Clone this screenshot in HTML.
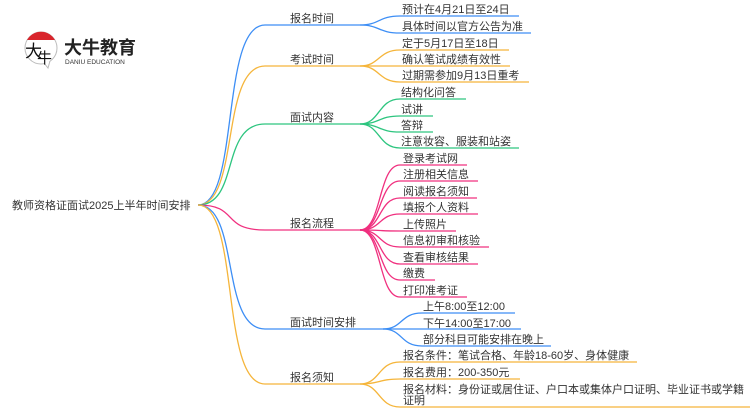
<!DOCTYPE html>
<html><head><meta charset="utf-8"><style>
body{margin:0;background:#fff;width:750px;height:410px;overflow:hidden}
svg text{font-family:"Liberation Sans","Noto Sans CJK SC",sans-serif;font-size:11px;fill:#333}
</style></head><body>
<svg width="750" height="410" viewBox="0 0 750 410" xmlns="http://www.w3.org/2000/svg" fill="none" stroke-width="1.3">
<!-- logo -->
<circle cx="41" cy="48" r="16" fill="#fff" stroke="#bbb" stroke-width="1"/>
<path d="M27,40 A16,16 0 0 1 55,40 Z" fill="#d9252c" stroke="none"/>
<path d="M44,63 L48,68 L50,61" fill="#fff" stroke="#bbb" stroke-width="1"/>
<text x="25" y="57" style="font-size:17px;fill:#111">大</text>
<text x="37" y="63" style="font-size:15px;fill:#111">牛</text>
<text x="64" y="54" style="font-size:18px;font-weight:bold;fill:#222">大牛教育</text>
<text x="65" y="64" style="font-size:6.5px;fill:#333">DANIU EDUCATION</text>
<!-- root -->
<text x="12" y="209">教师资格证面试2025上半年时间安排</text>
<!-- branches -->
<path d="M198,205 C240,205 220,25 265,25 L360,25" stroke="#3d8ef5"/>
<path d="M198,205 C240,205 220,66 265,66 L360,66" stroke="#f5b53b"/>
<path d="M198,205 C240,205 220,124 265,124 L360,124" stroke="#2dc57f"/>
<path d="M198,205 C240,205 220,230 265,230 L360,230" stroke="#f0307f"/>
<path d="M198,205 C240,205 220,329 265,329 L383,329" stroke="#3d8ef5"/>
<path d="M198,205 C240,205 220,384 265,384 L360,384" stroke="#f5b53b"/>
<text x="290" y="22">报名时间</text>
<text x="290" y="63">考试时间</text>
<text x="290" y="121">面试内容</text>
<text x="290" y="227">报名流程</text>
<text x="290" y="326">面试时间安排</text>
<text x="290" y="381">报名须知</text>
<g stroke="#3d8ef5">
<path d="M360,25 C380,25 378,16 400,16 L519,16"/>
<path d="M360,25 C380,25 378,33 400,33 L531,33"/>
</g>
<text x="402" y="13">预计在4月21日至24日</text>
<text x="402" y="30">具体时间以官方公告为准</text>
<g stroke="#f5b53b">
<path d="M360,66 C380,66 378,50 400,50 L509,50"/>
<path d="M360,66 L510,66"/>
<path d="M360,66 C380,66 378,82 400,82 L529,82"/>
</g>
<text x="402" y="47">定于5月17日至18日</text>
<text x="402" y="63">确认笔试成绩有效性</text>
<text x="402" y="79">过期需参加9月13日重考</text>
<g stroke="#2dc57f">
<path d="M360,124 C380,124 378,99 400,99 L466,99"/>
<path d="M360,124 C380,124 378,116 400,116 L433,116"/>
<path d="M360,124 C380,124 378,132 400,132 L433,132"/>
<path d="M360,124 C380,124 378,148 400,148 L519,148"/>
</g>
<text x="401" y="96">结构化问答</text>
<text x="401" y="113">试讲</text>
<text x="401" y="129">答辩</text>
<text x="401" y="145">注意妆容、服装和站姿</text>
<g stroke="#f0307f">
<path d="M360,230 C382,230 378,165 400,165 L467,165"/>
<path d="M360,230 C382,230 378,181 400,181 L478,181"/>
<path d="M360,230 C382,230 378,198 400,198 L477,198"/>
<path d="M360,230 C382,230 378,214 400,214 L478,214"/>
<path d="M360,230 C382,230 378,231 400,231 L456,231"/>
<path d="M360,230 C382,230 378,247 400,247 L489,247"/>
<path d="M360,230 C382,230 378,264 400,264 L478,264"/>
<path d="M360,230 C382,230 378,280 400,280 L435,280"/>
<path d="M360,230 C382,230 378,297 400,297 L467,297"/>
</g>
<text x="403" y="162">登录考试网</text>
<text x="403" y="178">注册相关信息</text>
<text x="403" y="195">阅读报名须知</text>
<text x="403" y="211">填报个人资料</text>
<text x="403" y="228">上传照片</text>
<text x="403" y="244">信息初审和核验</text>
<text x="403" y="261">查看审核结果</text>
<text x="403" y="277">缴费</text>
<text x="403" y="294">打印准考证</text>
<g stroke="#3d8ef5">
<path d="M383,329 C403,329 400,313 422,313 L515,313"/>
<path d="M383,329 L521,329"/>
<path d="M383,329 C403,329 400,346 422,346 L551,346"/>
</g>
<text x="423" y="310">上午8:00至12:00</text>
<text x="423" y="327">下午14:00至17:00</text>
<text x="423" y="343">部分科目可能安排在晚上</text>
<g stroke="#f5b53b">
<path d="M360,384 C380,384 378,362 400,362 L637,362"/>
<path d="M360,384 C380,384 378,379 400,379 L520,379"/>
<path d="M360,384 C380,384 378,407 400,407 L750,407"/>
</g>
<text x="403" y="359">报名条件：笔试合格、年龄18-60岁、身体健康</text>
<text x="403" y="376">报名费用：200-350元</text>
<text x="403" y="393">报名材料：身份证或居住证、户口本或集体户口证明、毕业证书或学籍</text>
<text x="403" y="404">证明</text>
</svg>
</body></html>
